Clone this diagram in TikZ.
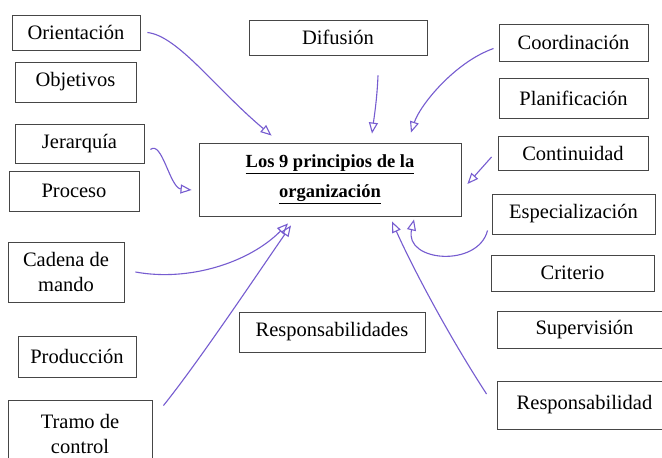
\documentclass[tikz,border=0pt]{standalone}
\usepackage{fontspec}
\setmainfont{Liberation Serif}
\usetikzlibrary{arrows.meta}
\definecolor{ink}{RGB}{118,92,208}
\definecolor{frame}{RGB}{70,70,70}
\begin{document}
\begin{tikzpicture}[x=1pt,y=-1pt,
    box/.style={draw=frame,line width=0.9pt,inner sep=0pt,align=center,
        font=\fontsize{20.5}{25}\selectfont},
    pen/.style={draw=ink,line width=1.1pt,
        -{Triangle[open,length=11pt,width=9pt]}}]
\useasboundingbox (0,0) rectangle (662,458);
\clip (0,0) rectangle (662,458);
\fill[white] (0,0) rectangle (662,458);
% the 9 principles around, and the rest
\foreach \n/\x/\y/\w/\h/\t in {
    orient/76/32.5/128/35/Orientación,
    objet/75.5/82/121/40/Objetivos,
    jerar/79.5/143.5/129/39/Jerarquía,
    proces/74/191/130/40/Proceso,
    produc/77/356.5/118/41/Producción,
    difus/338/37.5/178/35/Difusión,
    respsades/332/332/186/40/Responsabilidades,
    coord/573.5/42.5/149/37/Coordinación,
    planif/573.5/98/149/40/Planificación,
    contin/573/153/150/34/Continuidad,
    espec/573.5/214/163/40/Especialización,
    criter/572.5/273/163/36/Criterio,
    superv/584.5/329.5/175/37/Supervisión,
    respons/584.5/405/175/48/Responsabilidad} {
    \node[box,minimum width=\w,minimum height=\h] (\n) at (\x,\y) {\t};
}
\node[box,minimum width=116,minimum height=60] (cadena) at (66,272) {Cadena de\\mando};
\node[box,minimum width=144,minimum height=68] (tramo) at (80,434) {Tramo de\\control};
\node[box,minimum width=262,minimum height=73,
    font=\bfseries\fontsize{18.5}{30}\selectfont] (main) at (330,179.5)
    {\underline{Los 9 principios de la}\\\underline{organización}};
% hand drawn arrows
\draw[pen] ([xshift=7]orient.east) .. controls (178,36) and (215,88) .. ([shift={(73,-7)}]main.north west);
\draw[pen] ([shift={(40,20)}]difus.south) .. controls (377,100) and (374,118) .. ([shift={(42,-9)}]main.north);
\draw[pen] ([shift={(-5,6)}]coord.west) .. controls (455,62) and (420,105) .. ([shift={(81,-10)}]main.north);
\draw[pen] ([shift={(-6,4)}]contin.west) -- ([shift={(6,4.5)}]main.east);
\draw[pen] ([shift={(6,6)}]jerar.east) .. controls (162,140) and (170,188) .. ([shift={(-7,10.5)}]main.west);
\draw[pen] ([shift={(-4,-4)}]espec.south west) .. controls (478,268) and (404,262) .. ([shift={(84,3)}]main.south);
\draw[pen] ([shift={(-10,-11)}]respons.west) .. controls (445,330) and (410,262) .. ([shift={(62,5)}]main.south);
\draw[pen] ([xshift=11]cadena.east) .. controls (190,282) and (250,262) .. ([shift={(-42,7)}]main.south);
\draw[pen] ([shift={(11,6)}]tramo.north east) .. controls (200,360) and (260,270) .. ([shift={(-39,9)}]main.south);
\end{tikzpicture}
\end{document}
